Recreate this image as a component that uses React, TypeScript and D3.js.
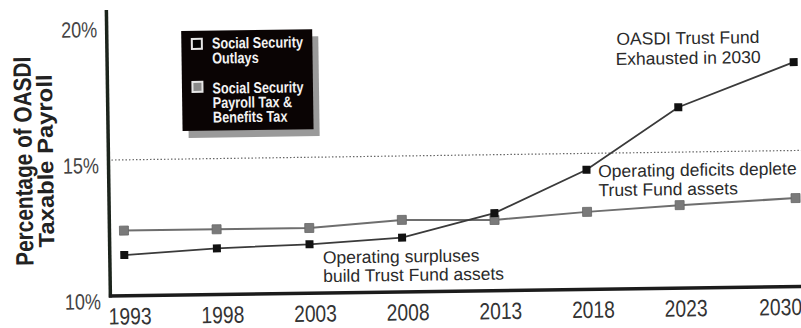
import React from "react";
import * as d3 from "d3";

const years = [1993, 1998, 2003, 2008, 2013, 2018, 2023, 2030];
const outlays = [11.5, 11.7, 11.8, 12.0, 12.85, 14.4, 16.65, 18.25];
const taxIncome = [12.4, 12.4, 12.4, 12.65, 12.6, 12.85, 13.05, 13.25];
const yTicks = [10, 15, 20];
const yTitle = ["Percentage of OASDI", "Taxable Payroll"];
const legendOutlays = ["Social Security", "Outlays"];
const legendTax = ["Social Security", "Payroll Tax &", "Benefits Tax"];
const noteExhausted = ["OASDI Trust Fund", "Exhausted in 2030"];
const noteDeficits = ["Operating deficits deplete", "Trust Fund assets"];
const noteSurpluses = ["Operating surpluses", "build Trust Fund assets"];

const W = 801;
const H = 328;
const SANS = "'Liberation Sans', Arial, Helvetica, sans-serif";

function NText(props: {
  x: number;
  y: number;
  sx?: number;
  anchor?: string;
  size: number;
  bold?: boolean;
  fill: string;
  children: React.ReactNode;
}) {
  const { x, y, sx = 0.82, anchor = "start", size, bold, fill, children } = props;
  return (
    <text
      transform={`translate(${x},${y}) scale(${sx},1)`}
      textAnchor={anchor as any}
      fontFamily={SANS}
      fontWeight={bold ? "bold" : "normal"}
      fontSize={size}
      fill={fill}
    >
      {children}
    </text>
  );
}

export default function App() {
  const x = d3.scaleLinear().domain([1993, 2023, 2030]).range([123, 679, 795]);
  const y = d3.scaleLinear().domain([10, 20]).range([292, 20]);
  const axisX = 108.5;

  const line = d3
    .line<number>()
    .x((_, i) => x(years[i]))
    .y((d) => y(d));

  const tickLabelX = (yr: number) => {
    const cx = x(yr) + 5;
    if (cx + 22 > W) return { x: 800, anchor: "end" };
    return { x: cx, anchor: "middle" };
  };

  return (
    <svg
      width={W}
      height={H}
      style={{ position: "absolute", left: 0, top: 0, background: "#fff" }}
    >
      <rect x={0} y={0} width={W} height={H} fill="#fff" />
      <g transform="rotate(-0.8, 400, 160)">
        {/* 15% dotted reference line */}
        <line
          x1={axisX + 3}
          x2={W + 10}
          y1={y(15)}
          y2={y(15)}
          stroke="#666"
          strokeWidth={1.2}
          strokeDasharray="1.5 2"
        />

        {/* Y axis title */}
        {yTitle.map((t, i) => (
          <text
            key={t}
            transform={`translate(${i === 0 ? 32 : 53}, ${156}) rotate(-90)`}
            textAnchor="middle"
            fontFamily={SANS}
            fontWeight="bold"
            fontSize={i === 0 ? 25 : 22}
            fill="#222"
            textLength={i === 0 ? 209 : 173}
            lengthAdjust="spacingAndGlyphs"
          >
            {t}
          </text>
        ))}

        {/* Y tick labels */}
        {yTicks.map((t) => (
          <NText key={t} x={99} y={y(t) + 13} anchor="end" size={22} fill="#444">
            {t}%
          </NText>
        ))}

        {/* X tick labels */}
        {years.map((yr) => {
          const p = tickLabelX(yr);
          return (
            <NText key={yr} x={p.x} y={320.5} anchor={p.anchor} size={23.5} fill="#333">
              {yr}
            </NText>
          );
        })}

        {/* Series lines */}
        <path d={line(taxIncome) || ""} fill="none" stroke="#6e6e6e" strokeWidth={2} />
        <path d={line(outlays) || ""} fill="none" stroke="#3a3a3a" strokeWidth={1.8} />

        {/* Markers */}
        {taxIncome.map((v, i) => (
          <rect
            key={"t" + i}
            x={x(years[i]) - 4.5}
            y={y(v) - 4.5}
            width={9}
            height={9}
            fill="#7a7a7a"
            stroke="#666"
            strokeWidth={0.8}
          />
        ))}
        {outlays.map((v, i) => (
          <rect
            key={"o" + i}
            x={x(years[i]) - 4}
            y={y(v) - 4}
            width={8}
            height={8}
            fill="#111"
          />
        ))}

        {/* Axes */}
        <line x1={axisX} x2={axisX} y1={6} y2={293.5} stroke="#1c241c" strokeWidth={3.5} />
        <line x1={axisX - 1.5} x2={W + 20} y1={292} y2={292} stroke="#1c1c1c" strokeWidth={3.5} />

        {/* Legend */}
        <rect x={189} y={35} width={131} height={100} fill="#9a9a9a" />
        <rect x={183} y={28} width={131} height={100} fill="#0a0404" />
        <rect x={193.5} y={36} width={10} height={10} fill="#000" stroke="#e6e6e6" strokeWidth={2} />
        <rect x={193.5} y={79} width={10} height={10} fill="#8a8a8a" stroke="#e6e6e6" strokeWidth={2} />
        {legendOutlays.map((t, i) => (
          <NText key={"lo" + i} x={213.5} y={46 + i * 15} size={15.5} bold fill="#f2f2f2">
            {t}
          </NText>
        ))}
        {legendTax.map((t, i) => (
          <NText key={"lt" + i} x={213.5} y={91 + i * 14.5} size={15.5} bold fill="#f2f2f2">
            {t}
          </NText>
        ))}

        {/* Annotations */}
        {noteExhausted.map((t, i) => (
          <text
            key={"ne" + i}
            x={689.5}
            y={48 + i * 20}
            textAnchor="middle"
            fontFamily={SANS}
            fontSize={17.5}
            fill="#2a2a2a"
          >
            {t}
          </text>
        ))}
        {noteDeficits.map((t, i) => (
          <text
            key={"nd" + i}
            x={598}
            y={180 + i * 19}
            fontFamily={SANS}
            fontSize={17.5}
            fill="#2a2a2a"
          >
            {t}
          </text>
        ))}
        {noteSurpluses.map((t, i) => (
          <text
            key={"ns" + i}
            x={321.5}
            y={262.5 + i * 18.5}
            fontFamily={SANS}
            fontSize={17.5}
            fill="#2a2a2a"
          >
            {t}
          </text>
        ))}
      </g>
    </svg>
  );
}
